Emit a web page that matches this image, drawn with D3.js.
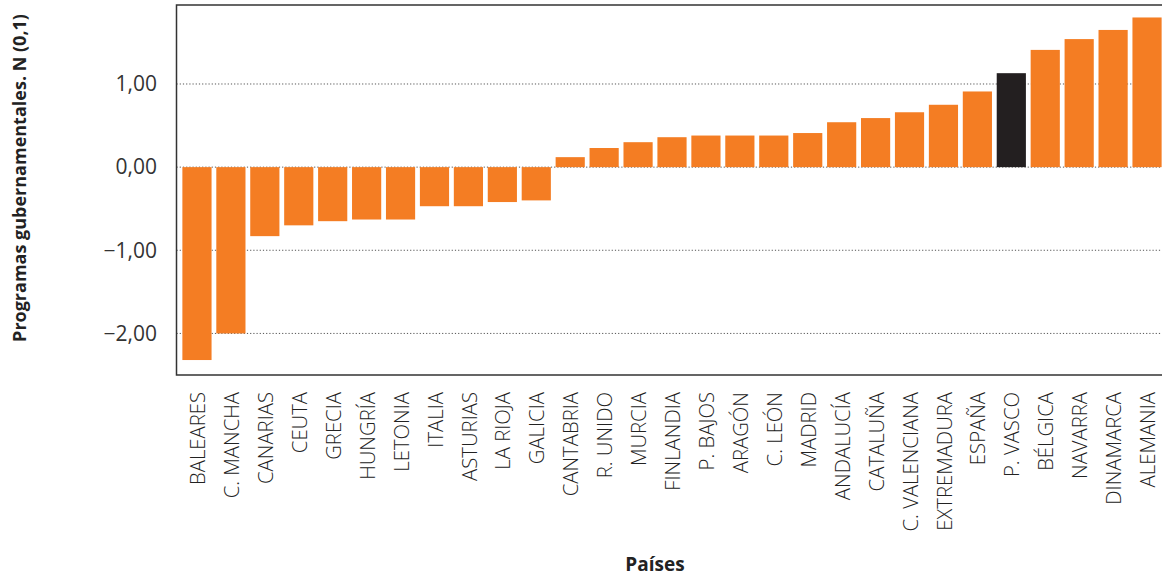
<!DOCTYPE html>
<html>
<head>
<meta charset="utf-8">
<script src="https://cdn.jsdelivr.net/npm/d3@7"></script>
<style>
  html, body { margin: 0; padding: 0; background: #fff; }
  svg { display: block; }
  text { font-family: "Open Sans", "Noto Sans", sans-serif; }
</style>
</head>
<body>
<svg id="chart" width="1162" height="579"></svg>
<script>
const categories = ["BALEARES","C. MANCHA","CANARIAS","CEUTA","GRECIA","HUNGRÍA","LETONIA","ITALIA","ASTURIAS","LA RIOJA","GALICIA","CANTABRIA","R. UNIDO","MURCIA","FINLANDIA","P. BAJOS","ARAGÓN","C. LEÓN","MADRID","ANDALUCÍA","CATALUÑA","C. VALENCIANA","EXTREMADURA","ESPAÑA","P. VASCO","BÉLGICA","NAVARRA","DINAMARCA","ALEMANIA"];
const values = [-2.32,-2.00,-0.83,-0.70,-0.65,-0.63,-0.63,-0.47,-0.47,-0.42,-0.40,0.12,0.23,0.30,0.36,0.38,0.38,0.38,0.41,0.54,0.59,0.66,0.75,0.91,1.13,1.41,1.54,1.65,1.80];
const highlighted = ["P. VASCO"];
const yTicks = [-2, -1, 0, 1];
const yTickLabels = ["\u22122,00", "\u22121,00", "0,00", "1,00"];
const yTitle = "Programas gubernamentales. N (0,1)";
const xTitle = "Países";

const svg = d3.select("#chart");
const plotLeft = 176.5, plotTop = 5, plotBottom = 375, plotRight = 1162;

const x = d3.scaleBand().domain(categories).range([180, 1164]).paddingInner(0.14).paddingOuter(0.07);
const y = d3.scaleLinear().domain([-2.5, 1.95]).range([plotBottom, plotTop]);

// gridlines
svg.append("g").selectAll("line").data(yTicks).join("line")
  .attr("x1", plotLeft).attr("x2", plotRight)
  .attr("y1", d => y(d)).attr("y2", d => y(d))
  .attr("stroke", "#555").attr("stroke-width", 1)
  .attr("stroke-dasharray", "1.2,2");

// bars
svg.append("g").selectAll("rect").data(categories).join("rect")
  .attr("x", d => x(d))
  .attr("width", x.bandwidth())
  .attr("y", (d, i) => y(Math.max(0, values[i])))
  .attr("height", (d, i) => Math.abs(y(values[i]) - y(0)))
  .attr("fill", d => highlighted.includes(d) ? "#231F20" : "#F47D23");

// frame
svg.append("path")
  .attr("d", `M${plotRight},${plotTop} H${plotLeft} V${plotBottom} H${plotRight}`)
  .attr("fill", "none").attr("stroke", "#333").attr("stroke-width", 1.5);

// y tick labels
svg.append("g").selectAll("text").data(yTicks).join("text")
  .attr("x", 157).attr("y", d => y(d))
  .attr("dy", "0.35em")
  .attr("text-anchor", "end")
  .attr("font-size", 21).attr("fill", "#333")
  .text((d, i) => yTickLabels[i]);

// x labels
svg.append("g").selectAll("text").data(categories).join("text")
  .attr("transform", d => `translate(${x(d) + x.bandwidth() / 2 + 1},392) rotate(-90)`)
  .attr("dy", "0.35em")
  .attr("text-anchor", "end")
  .attr("font-size", 20.3).attr("font-weight", 300).attr("fill", "#222")
  .text(d => d);

// axis titles
svg.append("text")
  .attr("transform", "translate(20,178) rotate(-90)")
  .attr("dy", "0.35em")
  .attr("text-anchor", "middle")
  .attr("font-size", 18).attr("font-weight", "bold").attr("fill", "#222")
  .text(yTitle);

svg.append("text")
  .attr("x", 655).attr("y", 571)
  .attr("text-anchor", "middle")
  .attr("font-size", 19).attr("font-weight", "bold").attr("fill", "#222")
  .text(xTitle);
</script>
</body>
</html>
